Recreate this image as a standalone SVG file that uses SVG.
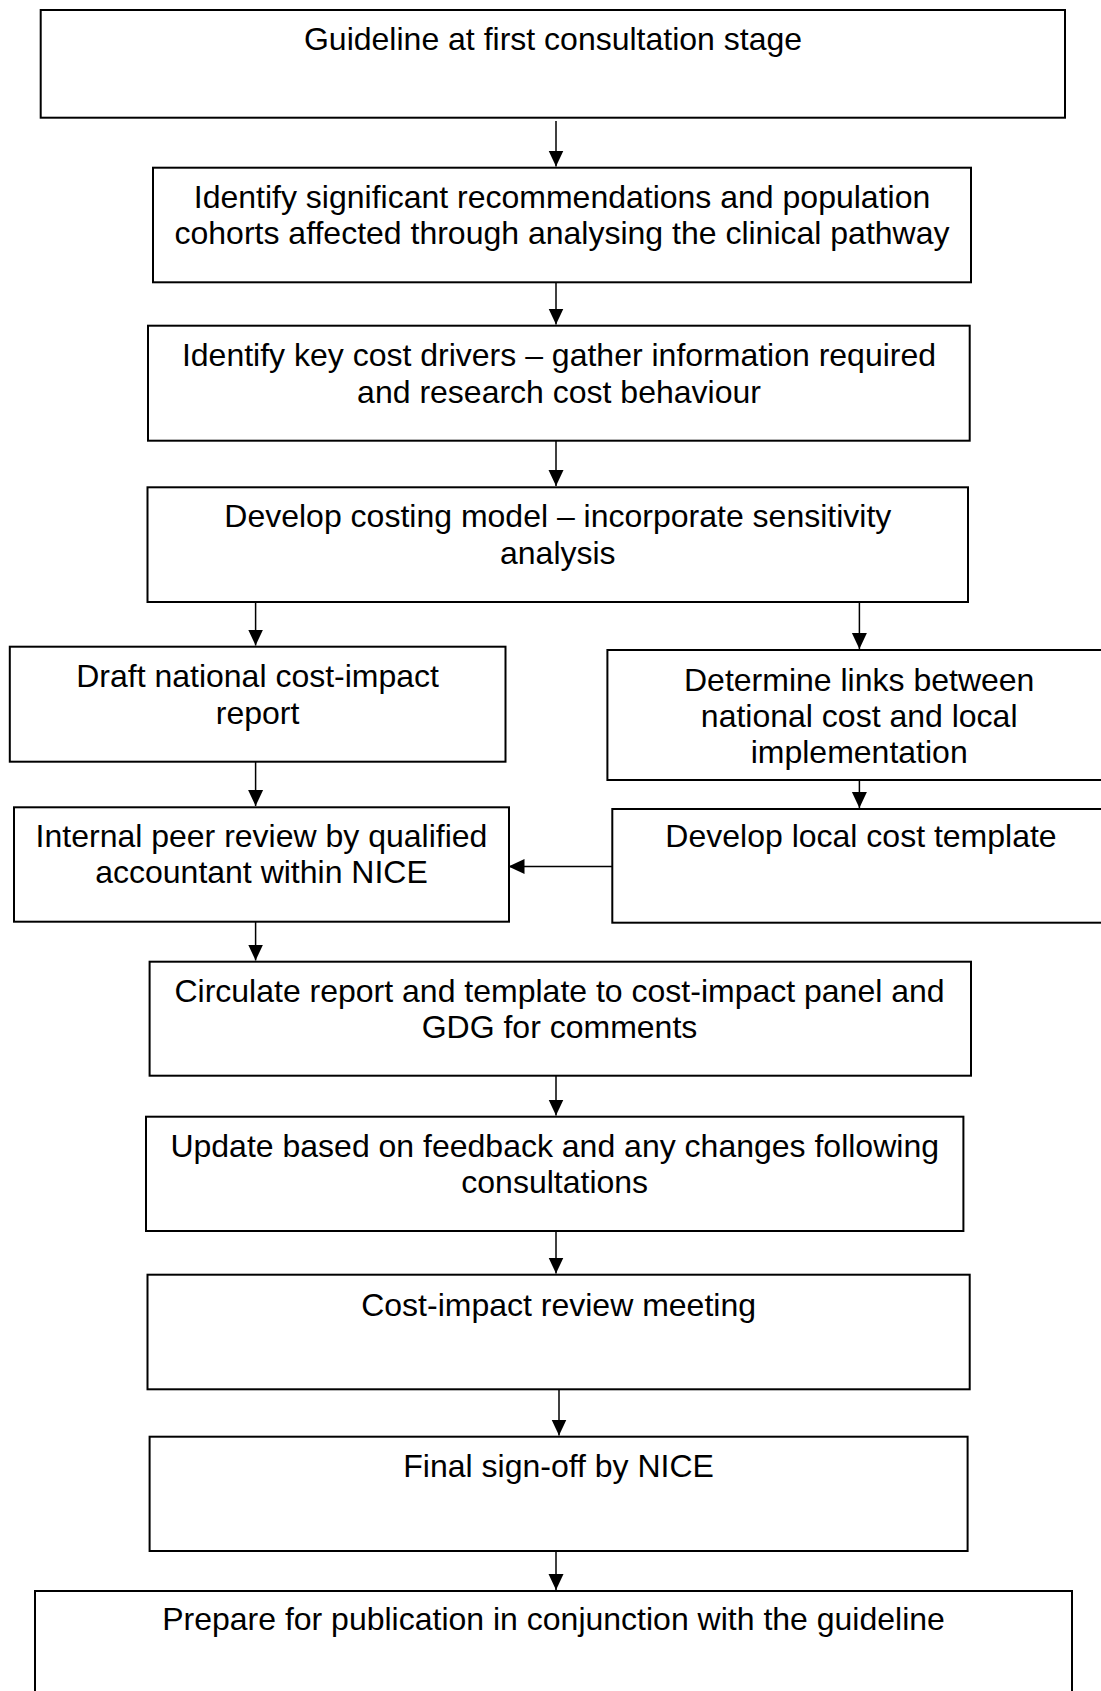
<svg xmlns="http://www.w3.org/2000/svg" width="1101" height="1691" viewBox="0 0 1101 1691">
<style>
.box{fill:#fff;stroke:#000;stroke-width:2}
.t{font-family:"Liberation Sans",Arial,sans-serif;font-size:32px;fill:#000;text-anchor:middle}
.c{stroke:#000;stroke-width:1.5;fill:none;marker-end:url(#ah)}
</style>
<defs>
<marker id="ah" viewBox="0 0 16 16" refX="16" refY="8" markerWidth="16" markerHeight="16" markerUnits="userSpaceOnUse" orient="auto">
<path d="M0,0.5 L16,8 L0,15.5 z" fill="#000"/>
</marker>
</defs>
<rect width="1101" height="1691" fill="#fff"/>
<g id="connectors">
<line class="c" x1="556" y1="121" x2="556" y2="166.5"/>
<line class="c" x1="556" y1="283" x2="556" y2="324.5"/>
<line class="c" x1="556" y1="441" x2="556" y2="486"/>
<line class="c" x1="255.6" y1="602" x2="255.6" y2="645.5"/>
<line class="c" x1="859.4" y1="602" x2="859.4" y2="649"/>
<line class="c" x1="255.6" y1="762" x2="255.6" y2="806"/>
<line class="c" x1="859.4" y1="780" x2="859.4" y2="808"/>
<line class="c" x1="612" y1="866.5" x2="508.5" y2="866.5"/>
<line class="c" x1="255.6" y1="922" x2="255.6" y2="960.5"/>
<line class="c" x1="556" y1="1076" x2="556" y2="1115.5"/>
<line class="c" x1="556" y1="1231" x2="556" y2="1273.5"/>
<line class="c" x1="559" y1="1389" x2="559" y2="1435.5"/>
<line class="c" x1="556" y1="1551" x2="556" y2="1590"/>
</g>
<g id="n1"><rect class="box" x="40.7" y="10" width="1024.3" height="107.7"/>
<text class="t" x="553" y="50">Guideline at first consultation stage</text></g>
<g id="n2"><rect class="box" x="153" y="167.7" width="818" height="114.6"/>
<text class="t" x="562" y="207.5">Identify significant recommendations and population</text>
<text class="t" x="562" y="243.5">cohorts affected through analysing the clinical pathway</text></g>
<g id="n3"><rect class="box" x="148" y="325.7" width="821.7" height="115"/>
<text class="t" x="559" y="366">Identify key cost drivers – gather information required</text>
<text class="t" x="559" y="402.5">and research cost behaviour</text></g>
<g id="n4"><rect class="box" x="147.5" y="487.3" width="820.5" height="114.7"/>
<text class="t" x="557.8" y="527.3">Develop costing model – incorporate sensitivity</text>
<text class="t" x="557.8" y="563.8">analysis</text></g>
<g id="n5"><rect class="box" x="9.8" y="646.7" width="495.7" height="115"/>
<text class="t" x="257.6" y="687.3">Draft national cost-impact</text>
<text class="t" x="257.6" y="723.5">report</text></g>
<g id="n6"><rect class="box" x="607.4" y="650" width="503.6" height="130"/>
<text class="t" x="859.2" y="690.7">Determine links between</text>
<text class="t" x="859.2" y="726.7">national cost and local</text>
<text class="t" x="859.2" y="762.7">implementation</text></g>
<g id="n7"><rect class="box" x="612.3" y="809" width="497.7" height="113.7"/>
<text class="t" x="861" y="847.3">Develop local cost template</text></g>
<g id="n8"><rect class="box" x="14" y="807.3" width="495" height="114.4"/>
<text class="t" x="261.5" y="846.7">Internal peer review by qualified</text>
<text class="t" x="261.5" y="883.3">accountant within NICE</text></g>
<g id="n9"><rect class="box" x="149.6" y="961.7" width="821.4" height="114"/>
<text class="t" x="559.5" y="1001.7">Circulate report and template to cost-impact panel and</text>
<text class="t" x="559.5" y="1038.3">GDG for comments</text></g>
<g id="n10"><rect class="box" x="146" y="1116.7" width="817.4" height="114.3"/>
<text class="t" x="554.7" y="1156.7">Update based on feedback and any changes following</text>
<text class="t" x="554.7" y="1192.7">consultations</text></g>
<g id="n11"><rect class="box" x="147.5" y="1274.7" width="822.2" height="114.6"/>
<text class="t" x="558.6" y="1316">Cost-impact review meeting</text></g>
<g id="n12"><rect class="box" x="149.6" y="1436.7" width="818" height="114.3"/>
<text class="t" x="558.6" y="1476.7">Final sign-off by NICE</text></g>
<g id="n13"><rect class="box" x="35" y="1591" width="1037" height="115"/>
<text class="t" x="553.5" y="1630">Prepare for publication in conjunction with the guideline</text></g>
</svg>
